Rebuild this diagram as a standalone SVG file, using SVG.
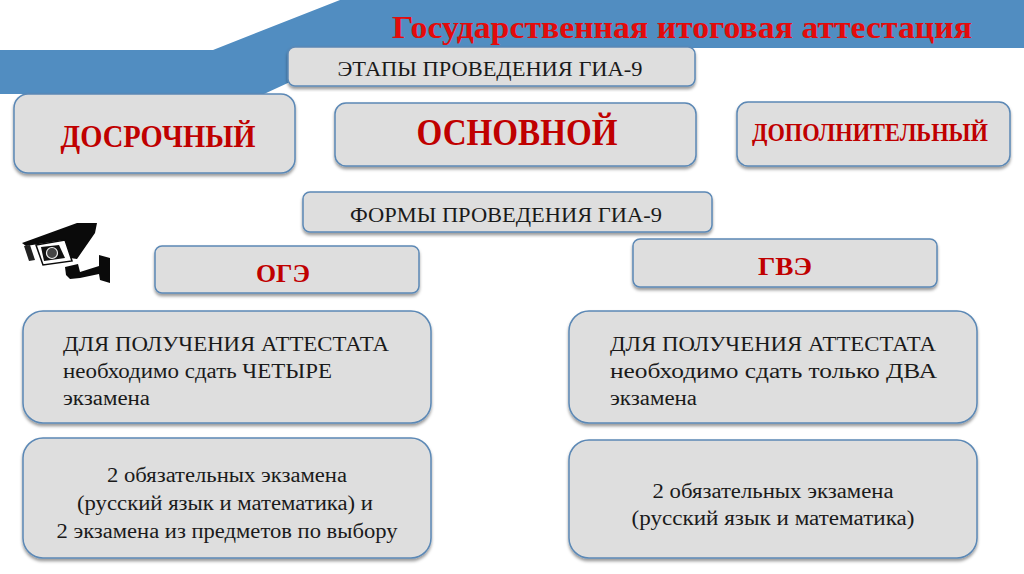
<svg xmlns="http://www.w3.org/2000/svg" width="1024" height="574" viewBox="0 0 1024 574">
<defs>
<filter id="sh" x="-5%" y="-10%" width="110%" height="125%"><feDropShadow dx="0" dy="2.5" stdDeviation="1.5" flood-color="#000" flood-opacity="0.4"/></filter>
</defs>
<style>
.b{fill:#dedede;stroke:#5b88b5;stroke-width:1.5;filter:url(#sh)}
text{font-family:"Liberation Serif","DejaVu Serif",serif}
.r{fill:#c00000;font-weight:bold;text-anchor:middle}
.k{fill:#1a1a1a;font-size:20.5px}
.m{text-anchor:middle}
</style>
<rect width="1024" height="574" fill="#ffffff"/>
<path id="banner" d="M0 50H213L340 0H1024V48H290V82L264 94H0Z" fill="#518dc1"/>
<text x="682" y="38" class="r" font-size="31" style="fill:#e30b0b" textLength="580" lengthAdjust="spacingAndGlyphs">Государственная итоговая аттестация</text>

<g id="n-stages"><rect class="b" x="288" y="47" width="407" height="39" rx="7"/><text x="490" y="76" class="k m" textLength="305" lengthAdjust="spacingAndGlyphs">ЭТАПЫ ПРОВЕДЕНИЯ ГИА-9</text></g>
<g id="n-early"><rect class="b" x="14" y="94" width="281" height="79" rx="14"/><text x="158" y="147" class="r" font-size="31" textLength="195" lengthAdjust="spacingAndGlyphs">ДОСРОЧНЫЙ</text></g>
<g id="n-main"><rect class="b" x="335" y="103" width="361" height="63" rx="11"/><text x="517" y="145" class="r" font-size="37" textLength="201" lengthAdjust="spacingAndGlyphs">ОСНОВНОЙ</text></g>
<g id="n-extra"><rect class="b" x="737" y="102" width="273" height="64" rx="11"/><text x="870" y="141" class="r" font-size="26" textLength="236" lengthAdjust="spacingAndGlyphs">ДОПОЛНИТЕЛЬНЫЙ</text></g>
<g id="n-forms"><rect class="b" x="303" y="192" width="409" height="40" rx="7"/><text x="506" y="222" class="k m" textLength="312" lengthAdjust="spacingAndGlyphs">ФОРМЫ ПРОВЕДЕНИЯ ГИА-9</text></g>

<g id="camera" transform="translate(2 0)">
<path d="M20 243L75 223L95 223L93 233L75 259L68 258L62 240L24 246Z" fill="#0a0a0a"/>
<path d="M22 246L28 245L33 260L27 261Z" fill="#222"/>
<path d="M34 245L63 240L70 261L41 265Z" fill="#fff" stroke="#0a0a0a" stroke-width="1.5"/>
<path d="M39 247L57 245L63 258L42 261Z" fill="#111"/>
<circle cx="50" cy="253" r="5.5" fill="#444" stroke="#eee" stroke-width="1.2"/>
<path d="M63 267L76 264L78 272L97 266L97 255L108 258L108 283L98 280L97 274L78 278L68 279L64 275Z" fill="#0a0a0a"/>
</g>

<g id="n-oge"><rect class="b" x="155" y="246" width="264" height="47" rx="7"/><text x="283" y="282" class="r" font-size="26" textLength="54" lengthAdjust="spacingAndGlyphs">ОГЭ</text></g>
<g id="n-gve"><rect class="b" x="633" y="239" width="304" height="48" rx="7"/><text x="785" y="275" class="r" font-size="26" textLength="54" lengthAdjust="spacingAndGlyphs">ГВЭ</text></g>

<g id="n-oge-a"><rect class="b" x="23" y="311" width="408" height="112" rx="20"/>
<text class="k" x="63" y="351" textLength="326" lengthAdjust="spacingAndGlyphs">ДЛЯ ПОЛУЧЕНИЯ АТТЕСТАТА</text>
<text class="k" x="63" y="378" textLength="269" lengthAdjust="spacingAndGlyphs">необходимо сдать ЧЕТЫРЕ</text>
<text class="k" x="63" y="405" textLength="87" lengthAdjust="spacingAndGlyphs">экзамена</text></g>
<g id="n-gve-a"><rect class="b" x="569" y="311" width="408" height="112" rx="20"/>
<text class="k" x="610" y="351" textLength="326" lengthAdjust="spacingAndGlyphs">ДЛЯ ПОЛУЧЕНИЯ АТТЕСТАТА</text>
<text class="k" x="610" y="378" textLength="327" lengthAdjust="spacingAndGlyphs">необходимо сдать только ДВА</text>
<text class="k" x="610" y="405" textLength="87" lengthAdjust="spacingAndGlyphs">экзамена</text></g>
<g id="n-oge-b"><rect class="b" x="23" y="438" width="408" height="120" rx="20"/>
<text class="k m" x="227" y="482" textLength="240" lengthAdjust="spacingAndGlyphs">2 обязательных экзамена</text>
<text class="k m" x="225" y="510" textLength="296" lengthAdjust="spacingAndGlyphs">(русский язык и математика) и</text>
<text class="k m" x="227" y="538" textLength="341" lengthAdjust="spacingAndGlyphs">2 экзамена из предметов по выбору</text></g>
<g id="n-gve-b"><rect class="b" x="569" y="440" width="408" height="118" rx="20"/>
<text class="k m" x="773" y="498" textLength="241" lengthAdjust="spacingAndGlyphs">2 обязательных экзамена</text>
<text class="k m" x="773" y="525" textLength="283" lengthAdjust="spacingAndGlyphs">(русский язык и математика)</text></g>
</svg>
